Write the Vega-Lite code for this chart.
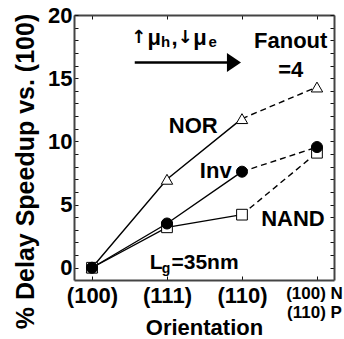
{
  "$schema": "https://vega.github.io/schema/vega-lite/v6.json",
  "width": 260,
  "height": 265,
  "autosize": {"type": "none"},
  "padding": {"left": 74, "top": 15, "right": 10, "bottom": 59},
  "background": "white",
  "config": {
    "font": "Liberation Sans",
    "view": {"stroke": null},
    "axis": {
      "domainColor": "#444",
      "domainWidth": 2,
      "tickColor": "#111",
      "tickWidth": 1,
      "tickSize": -4,
      "grid": false,
      "labelFont": "Liberation Sans",
      "labelFontWeight": "bold",
      "labelFontSize": 22,
      "labelColor": "black",
      "titleFont": "Liberation Sans",
      "titleFontWeight": "bold",
      "titleFontSize": 22,
      "titleColor": "black",
      "labelFlush": false,
      "labelOverlap": false
    }
  },
  "datasets": {
    "speed": [
      {"gate": "NOR", "idx": 0, "orientation": "(100)", "speedup": 0},
      {"gate": "NOR", "idx": 1, "orientation": "(111)", "speedup": 7.0},
      {"gate": "NOR", "idx": 2, "orientation": "(110)", "speedup": 11.8},
      {"gate": "NOR", "idx": 3, "orientation": "(100) N / (110) P", "speedup": 14.3},
      {"gate": "NAND", "idx": 0, "orientation": "(100)", "speedup": 0},
      {"gate": "NAND", "idx": 1, "orientation": "(111)", "speedup": 3.2},
      {"gate": "NAND", "idx": 2, "orientation": "(110)", "speedup": 4.2},
      {"gate": "NAND", "idx": 3, "orientation": "(100) N / (110) P", "speedup": 9.1},
      {"gate": "Inv", "idx": 0, "orientation": "(100)", "speedup": 0},
      {"gate": "Inv", "idx": 1, "orientation": "(111)", "speedup": 3.5},
      {"gate": "Inv", "idx": 2, "orientation": "(110)", "speedup": 7.6},
      {"gate": "Inv", "idx": 3, "orientation": "(100) N / (110) P", "speedup": 9.55}
    ],
    "labels": [
      {"text": "NOR", "x": 1.35, "y": 10.66},
      {"text": "Inv", "x": 1.65, "y": 7.09},
      {"text": "NAND", "x": 2.68, "y": 3.28},
      {"text": "Fanout", "x": 2.65, "y": 17.4},
      {"text": "=4", "x": 2.65, "y": 15.1}
    ],
    "mu": [
      {"part": "↑", "role": "arrow", "x": 0.62, "y": 17.75},
      {"part": "μ", "role": "main", "x": 0.83, "y": 17.59},
      {"part": "h", "role": "sub", "x": 0.98, "y": 17.43},
      {"part": ",", "role": "main", "x": 1.1, "y": 17.59},
      {"part": "↓", "role": "arrow", "x": 1.24, "y": 17.75},
      {"part": "μ", "role": "main", "x": 1.44, "y": 17.59},
      {"part": "e", "role": "sub", "x": 1.61, "y": 17.43}
    ],
    "lg": [
      {"part": "L", "x": 0.77, "y": -0.13},
      {"part": "=35nm", "x": 1.06, "y": -0.13}
    ],
    "lgsub": [
      {"part": "g", "x": 0.93, "y": -0.45}
    ],
    "arrow": [
      {"x": 0.57, "x2": 1.81, "y": 16.25, "tip": 1.893}
    ]
  },
  "resolve": {"axis": {"x": "independent", "y": "independent"}},
  "layer": [
    {
      "data": {"name": "speed"},
      "mark": {"type": "point", "opacity": 0},
      "encoding": {
        "x": {
          "field": "idx", "type": "quantitative",
          "scale": {"domain": [-0.24, 3.227], "nice": false, "zero": false},
          "axis": {
            "orient": "bottom",
            "values": [0, 1, 2, 3],
            "labelExpr": "datum.value == 0 ? '(100)' : datum.value == 1 ? '(111)' : datum.value == 2 ? '(110)' : ['(100) N', '(110) P']",
            "labelFontSize": {"condition": {"test": "datum.value == 3", "value": 17}, "value": 22},
            "labelOffset": {"condition": {"test": "datum.value == 3", "value": -3}, "value": 0},
            "labelBaseline": "top",
            "labelLineHeight": 19,
            "labelPadding": 9,
            "title": "Orientation",
            "titleBaseline": "alphabetic",
            "titleY": 54
          }
        },
        "y": {
          "field": "speedup", "type": "quantitative",
          "scale": {"domain": [-0.97, 20], "nice": false, "zero": false},
          "axis": {
            "orient": "left",
            "values": [0, 1, 2, 3, 4, 5, 6, 7, 8, 9, 10, 11, 12, 13, 14, 15, 16, 17, 18, 19, 20],
            "labelExpr": "datum.value % 5 === 0 ? datum.label : ''",
            "labelPadding": 6,
            "labelBaseline": "middle",
            "title": "% Delay Speedup vs. (100)",
            "titleFontSize": 25,
            "titleAngle": -90,
            "titleAlign": "center",
            "titleBaseline": "middle",
            "titleX": -49,
            "titleY": 156
          }
        }
      }
    },
    {
      "data": {"name": "speed"},
      "mark": {"type": "point", "opacity": 0},
      "encoding": {
        "x": {
          "field": "idx", "type": "quantitative",
          "scale": {"domain": [-0.24, 3.227], "nice": false, "zero": false},
          "axis": {"orient": "top", "values": [0, 1, 2, 3], "labels": false, "title": null}
        },
        "y": {
          "field": "speedup", "type": "quantitative",
          "scale": {"domain": [-0.97, 20], "nice": false, "zero": false},
          "axis": {"orient": "right", "values": [0, 1, 2, 3, 4, 5, 6, 7, 8, 9, 10, 11, 12, 13, 14, 15, 16, 17, 18, 19, 20], "labels": false, "title": null}
        }
      }
    },
    {
      "mark": {"type": "rule", "color": "black", "strokeWidth": 1.6, "strokeDash": [1.5, 1.5]},
      "encoding": {"x": {"datum": 2, "type": "quantitative", "axis": null}}
    },
    {
      "data": {"name": "speed"},
      "transform": [{"filter": "datum.idx <= 2"}],
      "mark": {"type": "line", "color": "black", "strokeWidth": 1.4},
      "encoding": {
        "x": {"field": "idx", "type": "quantitative", "axis": null},
        "y": {"field": "speedup", "type": "quantitative", "axis": null},
        "detail": {"field": "gate"}
      }
    },
    {
      "data": {"name": "speed"},
      "transform": [{"filter": "datum.idx >= 2"}],
      "mark": {"type": "line", "color": "black", "strokeWidth": 1.4, "strokeDash": [6, 4]},
      "encoding": {
        "x": {"field": "idx", "type": "quantitative", "axis": null},
        "y": {"field": "speedup", "type": "quantitative", "axis": null},
        "detail": {"field": "gate"}
      }
    },
    {
      "data": {"name": "speed"},
      "mark": {"type": "point", "filled": true, "stroke": "black", "strokeWidth": 1, "opacity": 1},
      "encoding": {
        "x": {"field": "idx", "type": "quantitative", "axis": null},
        "y": {"field": "speedup", "type": "quantitative", "axis": null},
        "shape": {"field": "gate", "type": "nominal", "scale": {"domain": ["NOR", "Inv", "NAND"], "range": ["triangle-up", "circle", "square"]}, "legend": null},
        "fill": {"field": "gate", "type": "nominal", "scale": {"domain": ["NOR", "Inv", "NAND"], "range": ["white", "black", "white"]}, "legend": null},
        "size": {"field": "gate", "type": "nominal", "scale": {"domain": ["NOR", "Inv", "NAND"], "range": [130, 115, 75]}, "legend": null}
      }
    },
    {
      "data": {"name": "arrow"},
      "mark": {"type": "rule", "color": "black", "strokeWidth": 2.5},
      "encoding": {
        "x": {"field": "x", "type": "quantitative", "axis": null},
        "x2": {"field": "x2"},
        "y": {"field": "y", "type": "quantitative", "axis": null}
      }
    },
    {
      "data": {"name": "arrow"},
      "mark": {"type": "point", "shape": "M-0.74,-1L0.74,0L-0.74,1Z", "filled": true, "color": "black", "size": 361, "opacity": 1},
      "encoding": {
        "x": {"field": "tip", "type": "quantitative", "axis": null},
        "y": {"field": "y", "type": "quantitative", "axis": null}
      }
    },
    {
      "data": {"name": "labels"},
      "mark": {"type": "text", "font": "Liberation Sans", "fontWeight": "bold", "fontSize": 22, "align": "center", "baseline": "alphabetic", "color": "black"},
      "encoding": {
        "x": {"field": "x", "type": "quantitative", "axis": null},
        "y": {"field": "y", "type": "quantitative", "axis": null},
        "text": {"field": "text"}
      }
    },
    {
      "data": {"name": "mu"},
      "transform": [{"filter": "datum.role == 'main'"}],
      "mark": {"type": "text", "font": "Liberation Sans", "fontWeight": "bold", "fontSize": 22, "align": "center", "baseline": "alphabetic", "color": "black"},
      "encoding": {
        "x": {"field": "x", "type": "quantitative", "axis": null},
        "y": {"field": "y", "type": "quantitative", "axis": null},
        "text": {"field": "part"}
      }
    },
    {
      "data": {"name": "mu"},
      "transform": [{"filter": "datum.role == 'sub'"}],
      "mark": {"type": "text", "font": "Liberation Sans", "fontWeight": "bold", "fontSize": 15, "align": "center", "baseline": "alphabetic", "color": "black"},
      "encoding": {
        "x": {"field": "x", "type": "quantitative", "axis": null},
        "y": {"field": "y", "type": "quantitative", "axis": null},
        "text": {"field": "part"}
      }
    },
    {
      "data": {"name": "mu"},
      "transform": [{"filter": "datum.role == 'arrow'"}],
      "mark": {"type": "text", "font": "DejaVu Sans", "fontWeight": "bold", "fontSize": 18, "align": "center", "baseline": "alphabetic", "color": "black"},
      "encoding": {
        "x": {"field": "x", "type": "quantitative", "axis": null},
        "y": {"field": "y", "type": "quantitative", "axis": null},
        "text": {"field": "part"}
      }
    },
    {
      "data": {"name": "lg"},
      "mark": {"type": "text", "font": "Liberation Sans", "fontWeight": "bold", "fontSize": 21, "align": "left", "baseline": "alphabetic", "color": "black"},
      "encoding": {
        "x": {"field": "x", "type": "quantitative", "axis": null},
        "y": {"field": "y", "type": "quantitative", "axis": null},
        "text": {"field": "part"}
      }
    },
    {
      "data": {"name": "lgsub"},
      "mark": {"type": "text", "font": "Liberation Sans", "fontWeight": "bold", "fontSize": 14, "align": "left", "baseline": "alphabetic", "color": "black"},
      "encoding": {
        "x": {"field": "x", "type": "quantitative", "axis": null},
        "y": {"field": "y", "type": "quantitative", "axis": null},
        "text": {"field": "part"}
      }
    }
  ]
}
